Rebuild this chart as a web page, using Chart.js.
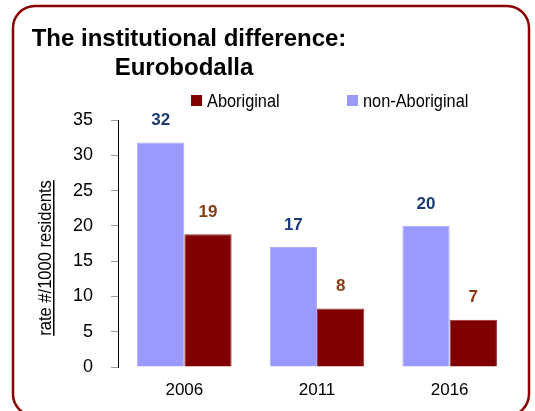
<!DOCTYPE html>
<html lang="en">
<head>
  <meta charset="UTF-8" />
  <title>The institutional difference: Eurobodalla</title>
  <style>
    body { margin: 0; background: #ffffff; }
    #wrap { position: relative; width: 535px; height: 411px; }
  </style>
  <script src="https://cdn.jsdelivr.net/npm/chart.js"></script>
</head>
<body>
  <div id="wrap"><canvas id="chart" width="535" height="411"></canvas></div>
  <script>
    const years = ['2006', '2011', '2016'];
    const nonAboriginal = [31.8, 17.0, 20.0];
    const aboriginal = [18.8, 8.3, 6.7];
    const nonAboriginalLabels = ['32', '17', '20'];
    const aboriginalLabels = ['19', '8', '7'];
    const yTicks = [0, 5, 10, 15, 20, 25, 30, 35];
    const titleLines = ['The institutional difference:', 'Eurobodalla'];
    const yTitle = 'rate #/1000 residents';

    const FONT = 'Liberation Sans, Arial, sans-serif';

    // box, title, legend, axis title and value labels
    const decorations = {
      id: 'decorations',
      beforeDraw(chart) {
        const ctx = chart.ctx;
        ctx.save();
        ctx.strokeStyle = '#8b0000';
        ctx.lineWidth = 2.5;
        ctx.beginPath();
        ctx.roundRect(13, 6, 516, 410, 22);
        ctx.stroke();
        ctx.restore();
      },
      afterDraw(chart) {
        const ctx = chart.ctx;
        ctx.save();
        // title
        ctx.fillStyle = '#000';
        ctx.font = 'bold 24px ' + FONT;
        ctx.textAlign = 'center';
        ctx.textBaseline = 'alphabetic';
        ctx.fillText(titleLines[0], 189, 46);
        ctx.fillText(titleLines[1], 184, 75);

        // legend (Aboriginal first)
        const items = [chart.data.datasets[1], chart.data.datasets[0]];
        const xs = [191, 347];
        ctx.textAlign = 'left';
        ctx.font = '19px ' + FONT;
        items.forEach((ds, i) => {
          ctx.fillStyle = ds.backgroundColor;
          ctx.fillRect(xs[i], 95, 11, 11);
          ctx.fillStyle = '#000';
          ctx.save();
          ctx.translate(xs[i] + 16, 107);
          ctx.scale(0.86, 1);
          ctx.fillText(ds.label, 0, 0);
          ctx.restore();
        });

        // y axis title, underlined
        ctx.save();
        ctx.translate(46, 258);
        ctx.rotate(-Math.PI / 2);
        ctx.scale(0.92, 1);
        ctx.font = '18px ' + FONT;
        ctx.textAlign = 'center';
        ctx.textBaseline = 'middle';
        ctx.fillStyle = '#000';
        ctx.fillText(yTitle, 0, 0);
        const w = ctx.measureText(yTitle).width;
        ctx.fillRect(-w / 2, 7, w, 1.5);
        ctx.restore();

        // value labels above bars
        ctx.font = 'bold 17px ' + FONT;
        ctx.textAlign = 'center';
        ctx.textBaseline = 'middle';
        chart.data.datasets.forEach((ds, di) => {
          chart.getDatasetMeta(di).data.forEach((bar, i) => {
            ctx.fillStyle = ds.labelColor;
            ctx.fillText(ds.valueLabels[i], bar.x, bar.y - 22);
          });
        });
        ctx.restore();
      }
    };

    new Chart(document.getElementById('chart'), {
      type: 'bar',
      data: {
        labels: years,
        datasets: [
          {
            label: 'non-Aboriginal',
            data: nonAboriginal,
            valueLabels: nonAboriginalLabels,
            labelColor: '#1b3a78',
            backgroundColor: '#9999ff',
            borderColor: '#aaaaff',
            borderWidth: 1
          },
          {
            label: 'Aboriginal',
            data: aboriginal,
            valueLabels: aboriginalLabels,
            labelColor: '#8a3c10',
            backgroundColor: '#800000',
            borderColor: '#993333',
            borderWidth: 1
          }
        ]
      },
      options: {
        responsive: false,
        animation: false,
        layout: { padding: { left: 0, top: 120, right: 19, bottom: 0 } },
        datasets: { bar: { categoryPercentage: 0.713, barPercentage: 1 } },
        plugins: {
          legend: { display: false },
          title: { display: false },
          tooltip: { enabled: false }
        },
        scales: {
          x: {
            grid: { display: false },
            border: { display: false },
            ticks: { color: '#000', font: { size: 17, family: FONT }, padding: 5 },
            afterFit(scale) { scale.height = 44; }
          },
          y: {
            min: 0,
            max: 35,
            afterBuildTicks(scale) { scale.ticks = yTicks.map(v => ({ value: v })); },
            grid: { drawOnChartArea: false, color: '#999', tickLength: 7 },
            border: { color: '#000', width: 1 },
            ticks: { color: '#000', font: { size: 18, family: FONT }, padding: 18 },
            afterFit(scale) { scale.width = 118; }
          }
        }
      },
      plugins: [decorations]
    });
  </script>
</body>
</html>
